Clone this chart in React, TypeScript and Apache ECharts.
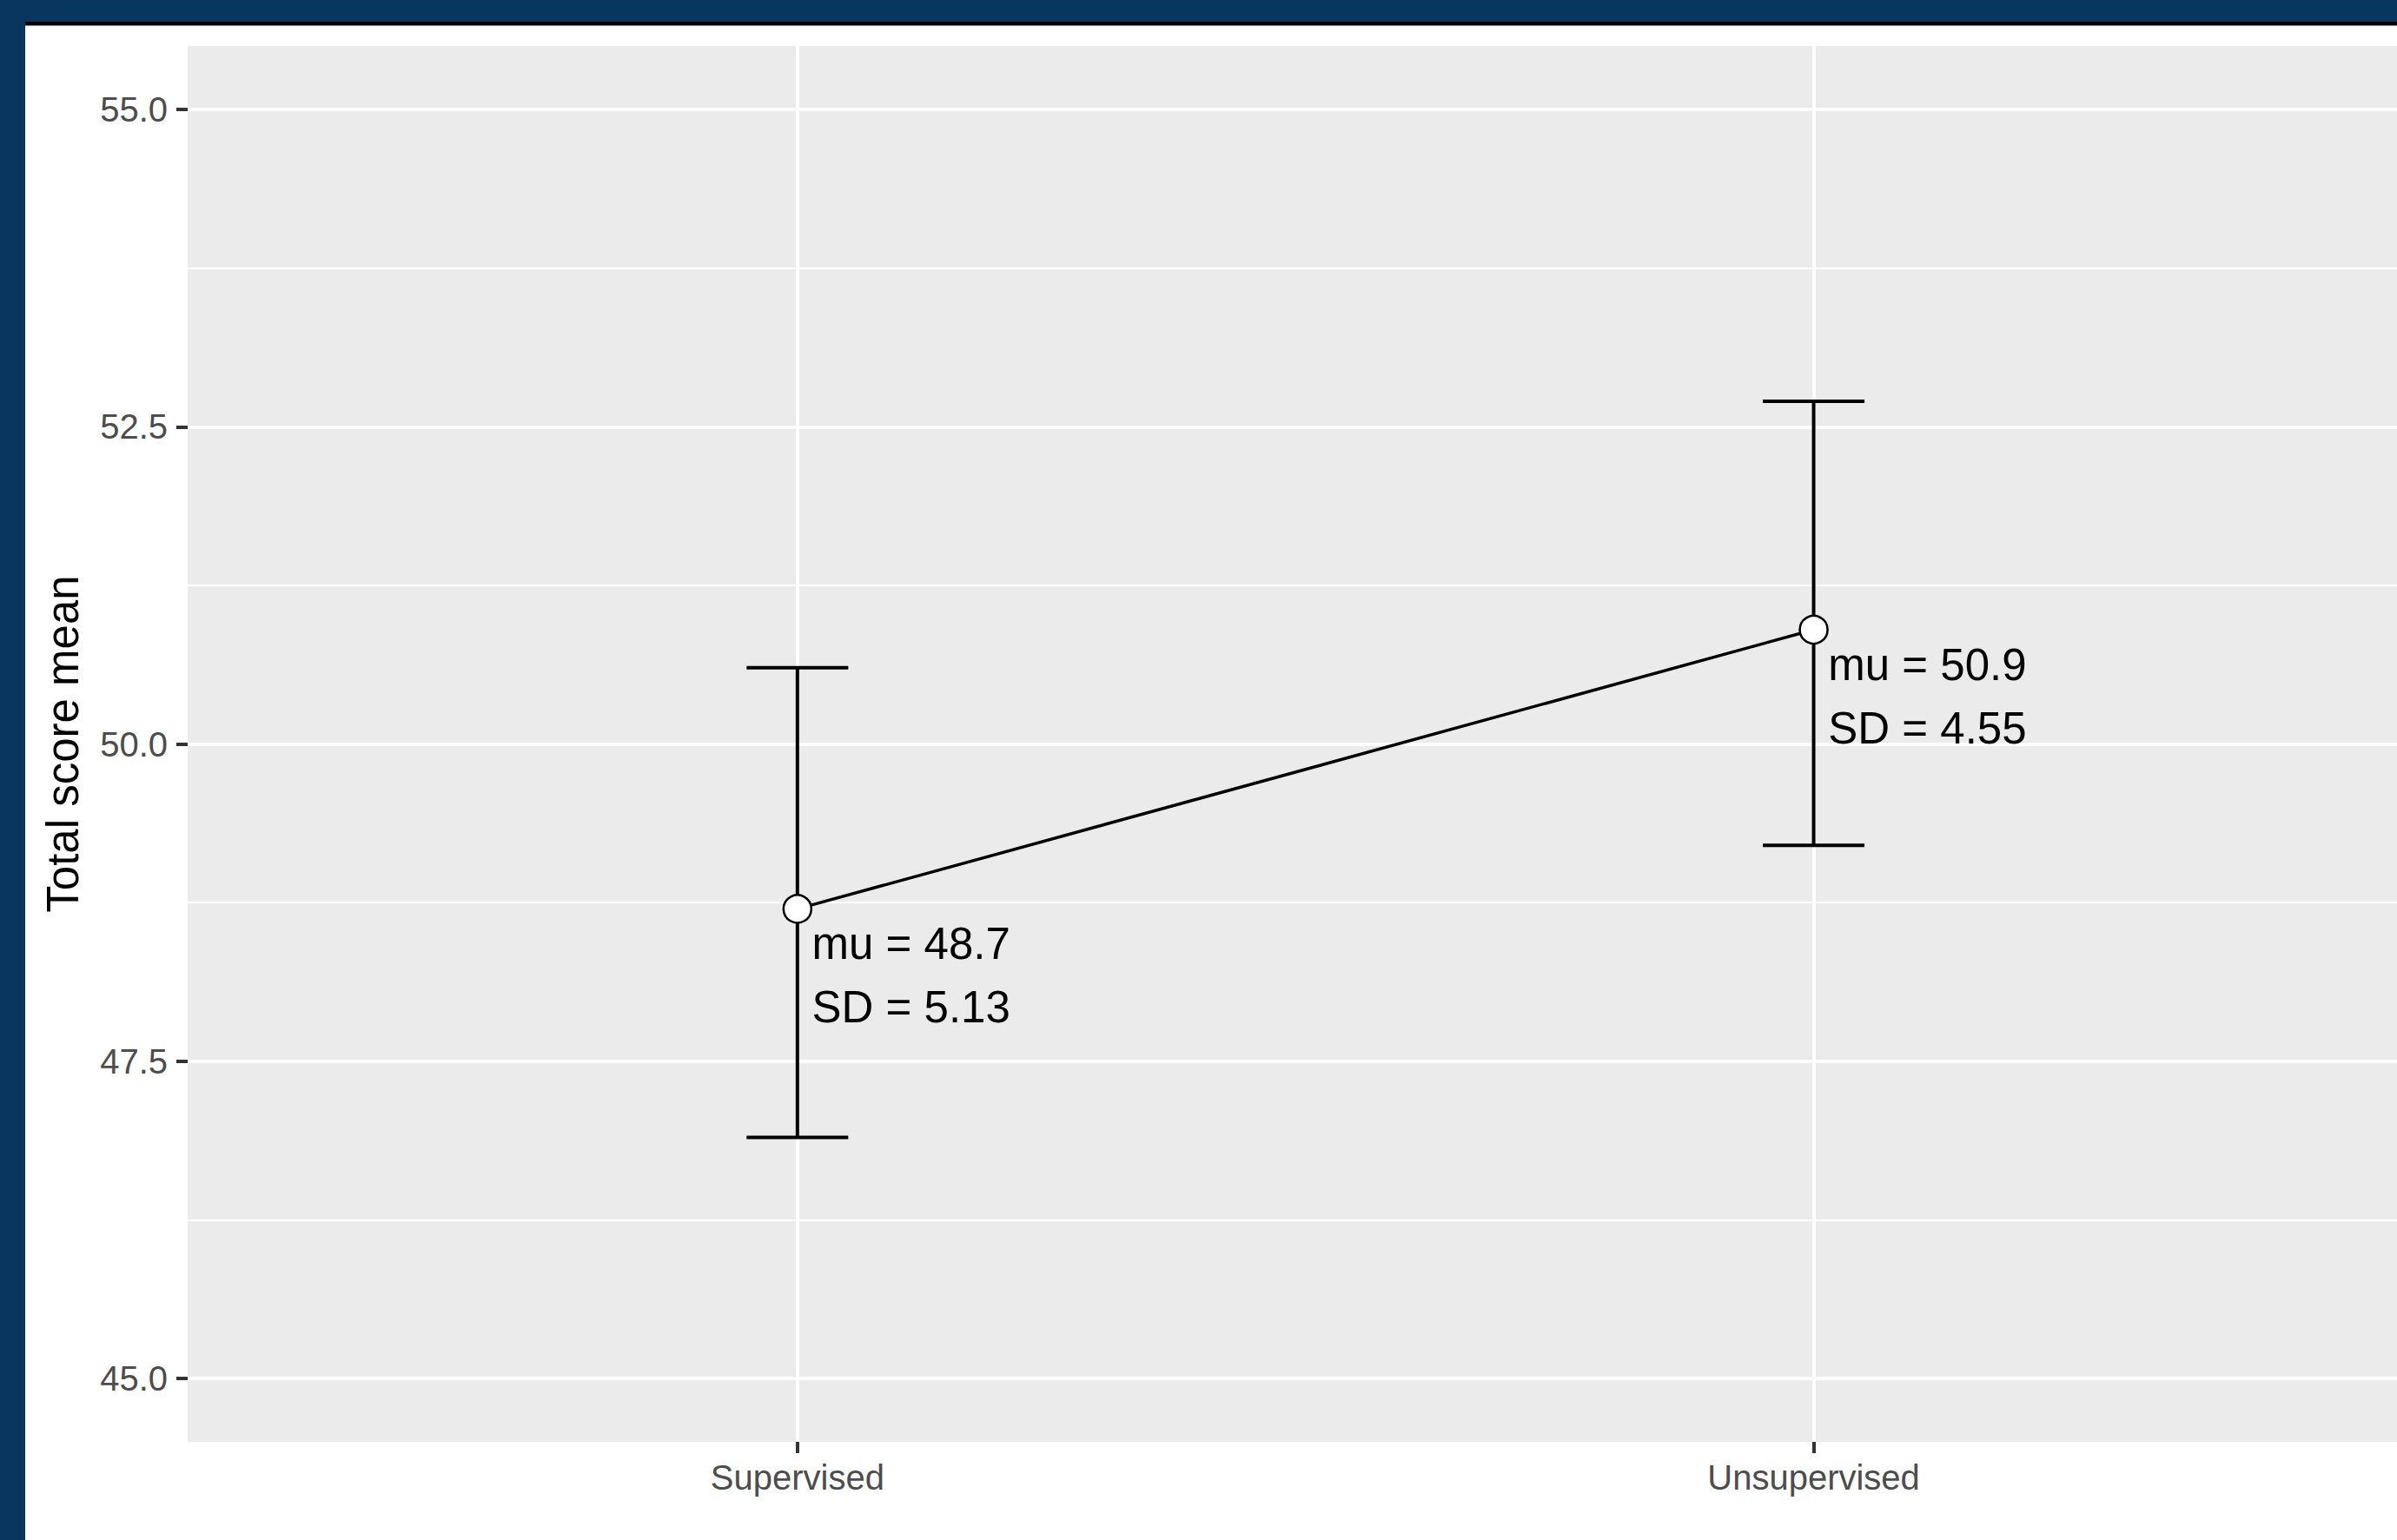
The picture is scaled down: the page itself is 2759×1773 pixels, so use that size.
import React, { useEffect, useRef } from "react";
import * as echarts from "echarts";

const categories = ["Supervised", "Unsupervised"];
const means = [48.7, 50.9];
const sds = [5.13, 4.55];
const lowers = [46.9, 49.2];
const uppers = [50.6, 52.7];
const yTicks = [45, 47.5, 50, 52.5, 55];
const yMinorGrid = [46.25, 48.75, 51.25, 53.75];
const yAxisTitle = "Total score mean";

export default function App() {
  const ref = useRef<HTMLDivElement>(null);
  useEffect(() => {
    const chart = echarts.init(ref.current!, null, { renderer: "svg" });
    const font = '"Liberation Sans", Arial, sans-serif';
    const xPositions = categories.map((_, i) => i + 1);
    const white = "#FFFFFF";
    const option: any = {
      animation: false,
      backgroundColor: "#FFFFFF",
      textStyle: { fontFamily: font },
      grid: {
        left: 216,
        top: 53,
        right: 0,
        bottom: 113,
        show: true,
        backgroundColor: "#EBEBEB",
        borderWidth: 0,
      },
      xAxis: {
        type: "value",
        min: 0.4,
        max: 2.574,
        axisLine: { show: false },
        axisTick: {
          show: true,
          length: 13,
          lineStyle: { color: "#333333", width: 4 },
          customValues: xPositions,
        },
        axisLabel: {
          customValues: xPositions,
          formatter: (v: number) => categories[Math.round(v) - 1] ?? "",
          color: "#4D4D4D",
          fontSize: 40,
          margin: 21,
          fontFamily: font,
        },
        splitLine: { show: false },
      },
      yAxis: {
        type: "value",
        min: 44.5,
        max: 55.5,
        name: yAxisTitle,
        nameLocation: "middle",
        nameGap: 118,
        nameTextStyle: { color: "#000000", fontSize: 51, fontFamily: font },
        axisLine: { show: false },
        axisTick: {
          show: true,
          length: 13,
          lineStyle: { color: "#333333", width: 4 },
          customValues: yTicks,
        },
        axisLabel: {
          customValues: yTicks,
          formatter: (v: number) => v.toFixed(1),
          color: "#4D4D4D",
          fontSize: 40,
          margin: 23,
          fontFamily: font,
        },
        splitLine: { show: false },
      },
      graphic: [
        { type: "rect", shape: { x: 0, y: 0, width: 2759, height: 25 }, style: { fill: "#08365F" }, z: 100 },
        { type: "rect", shape: { x: 0, y: 0, width: 29, height: 1773 }, style: { fill: "#08365F" }, z: 100 },
        { type: "rect", shape: { x: 29, y: 25, width: 2730, height: 4 }, style: { fill: "#000000" }, z: 100 },
        { type: "rect", shape: { x: 29, y: 29, width: 2730, height: 1 }, style: { fill: "#8A8A8A" }, z: 100 },
      ],
      series: [
        {
          type: "custom",
          z: 2,
          silent: true,
          encode: { x: 0, y: [1, 2] },
          data: categories.map((_, i) => [xPositions[i], lowers[i], uppers[i]]),
          renderItem: (params: any, api: any) => {
            const x = api.value(0);
            const lo = api.value(1);
            const hi = api.value(2);
            const pTop = api.coord([x, hi]);
            const pBot = api.coord([x, lo]);
            const half = api.size([0.05, 0])[0];
            const style = { stroke: "#000000", lineWidth: 4 };
            return {
              type: "group",
              children: [
                { type: "line", shape: { x1: pTop[0], y1: pTop[1], x2: pBot[0], y2: pBot[1] }, style },
                { type: "line", shape: { x1: pTop[0] - half, y1: pTop[1], x2: pTop[0] + half, y2: pTop[1] }, style },
                { type: "line", shape: { x1: pBot[0] - half, y1: pBot[1], x2: pBot[0] + half, y2: pBot[1] }, style },
              ],
            };
          },
          markLine: {
            silent: true,
            z: 1,
            symbol: ["none", "none"],
            label: { show: false },
            emphasis: { disabled: true },
            data: [
              ...yMinorGrid.map((v) => ({ yAxis: v, lineStyle: { color: white, width: 2, type: "solid" } })),
              ...yTicks.map((v) => ({ yAxis: v, lineStyle: { color: white, width: 4, type: "solid" } })),
              ...xPositions.map((v) => ({ xAxis: v, lineStyle: { color: white, width: 4, type: "solid" } })),
            ],
          },
        },
        {
          type: "line",
          z: 3,
          silent: true,
          data: means.map((m, i) => [xPositions[i], m]),
          symbol: "circle",
          symbolSize: 32,
          itemStyle: { color: "#FFFFFF", borderColor: "#000000", borderWidth: 2.5 },
          lineStyle: { color: "#000000", width: 3.5 },
          label: {
            show: true,
            position: [34, 21],
            align: "left",
            verticalAlign: "top",
            color: "#000000",
            fontSize: 51,
            lineHeight: 73,
            fontFamily: font,
            formatter: (p: any) =>
              `mu = ${means[p.dataIndex].toFixed(1)}\nSD = ${sds[p.dataIndex].toFixed(2)}`,
          },
        },
      ],
    };
    chart.setOption(option);
    return () => chart.dispose();
  }, []);
  return (
    <div
      ref={ref}
      style={{ position: "absolute", left: 0, top: 0, width: 2759, height: 1773 }}
    />
  );
}
